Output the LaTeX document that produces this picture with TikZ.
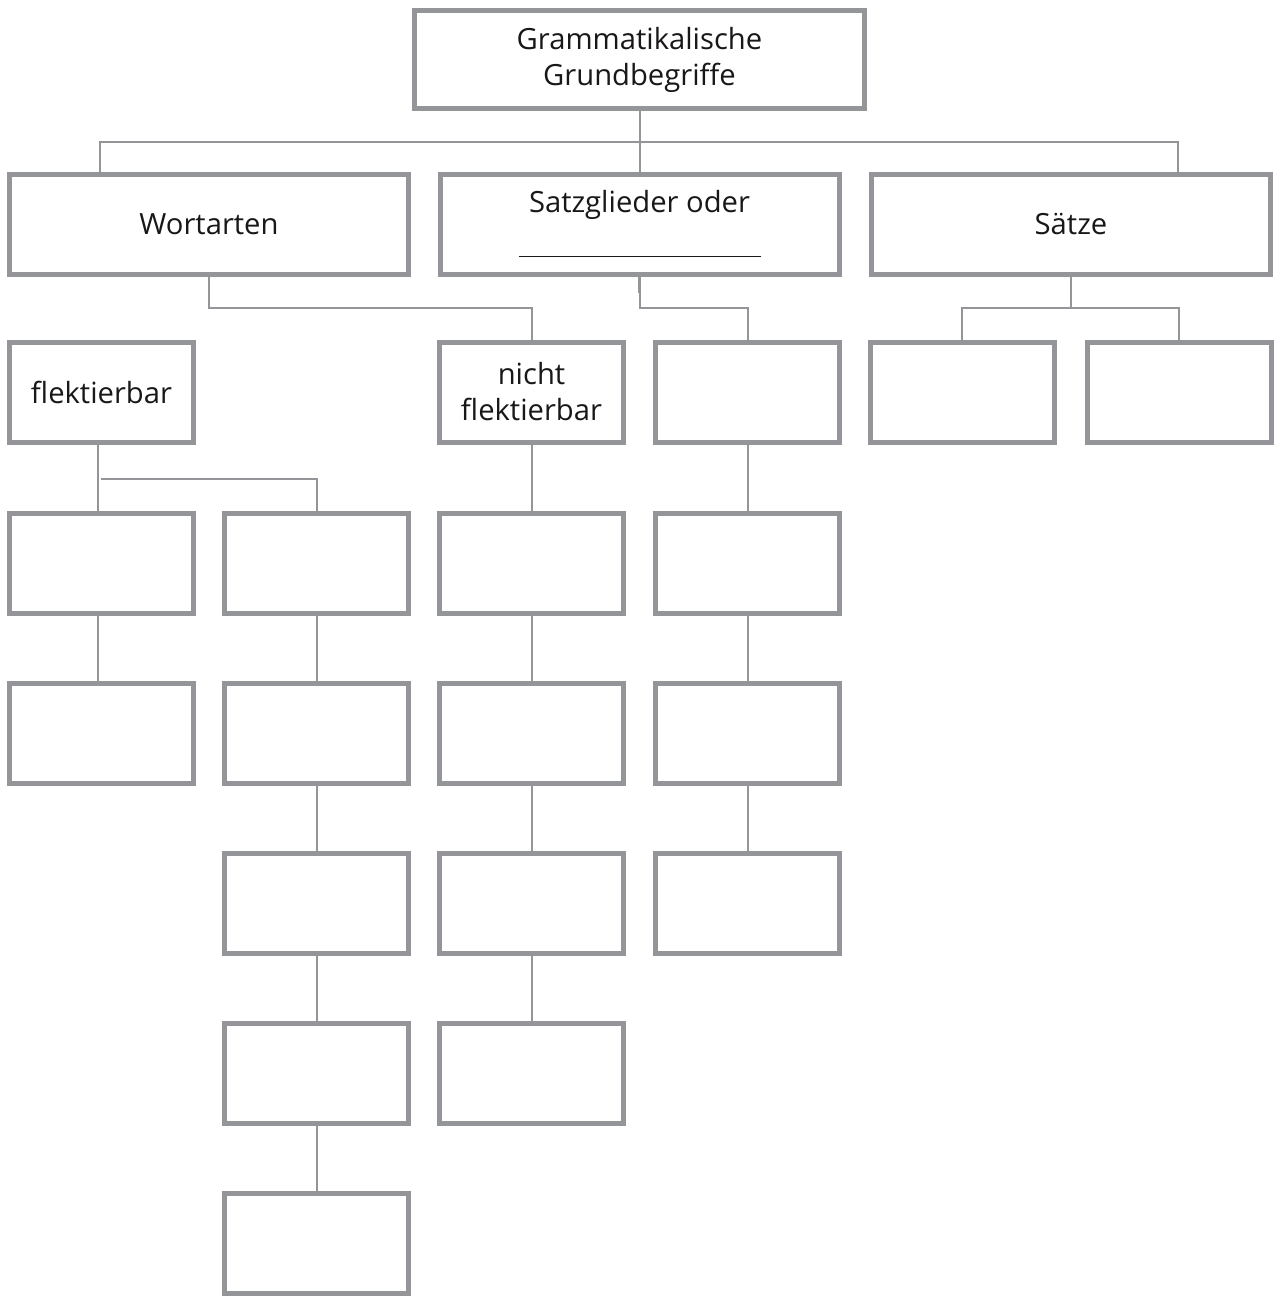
\documentclass[tikz,border=0pt]{standalone}
\usepackage{fontspec}
\setmainfont{Open Sans}
\definecolor{boxgray}{HTML}{939598}
\definecolor{txt}{HTML}{1A1718}
\begin{document}
\begin{tikzpicture}[x=0.5pt,y=-0.5pt,
  box/.style={draw=boxgray,line width=2.5pt,fill=white,rectangle,inner sep=0pt,
    minimum width=92pt,minimum height=50pt,align=center,text=txt,
    font=\fontsize{14.6pt}{18pt}\selectfont},
  wide/.style={box,minimum width=199.5pt,minimum height=50pt},
  conn/.style={draw=boxgray,line width=1pt}]
\useasboundingbox (0,0) rectangle (1279,1296);
% top
\node[box,minimum width=225pt,minimum height=49pt] (top) at (639.5,59.5) {Grammatikalische\\Grundbegriffe};
% level 1
\node[wide] (wa) at (209,224.5) {Wortarten};
\node[wide] (sg) at (639.5,224.5) {};
\node[wide] (sa) at (1071,224.5) {Sätze};
\node[text=txt,font=\fontsize{14.6pt}{18pt}\selectfont,inner sep=0pt] (sgt) at (639.5,205) {Satzglieder oder};
\draw[txt,line width=0.5pt] (519,256) -- (761,256);
% level 2
\node[box] (fl) at (101.5,392) {flektierbar};
\node[box] (nf) at (531.5,392) {nicht\\flektierbar};
\node[box] (c4) at (747.5,392) {};
\node[box] (c5) at (962,392) {};
\node[box] (c6) at (1179,392) {};
% column 1
\node[box] (a1) at (101.5,563) {};
\node[box] (a2) at (101.5,733) {};
% column 2
\node[box] (b1) at (316.5,563) {};
\node[box] (b2) at (316.5,733) {};
\node[box] (b3) at (316.5,903) {};
\node[box] (b4) at (316.5,1073) {};
\node[box] (b5) at (316.5,1243) {};
% column 3
\node[box] (d1) at (531.5,563) {};
\node[box] (d2) at (531.5,733) {};
\node[box] (d3) at (531.5,903) {};
\node[box] (d4) at (531.5,1073) {};
% column 4
\node[box] (e1) at (747.5,563) {};
\node[box] (e2) at (747.5,733) {};
\node[box] (e3) at (747.5,903) {};
% connectors
\coordinate (hb) at (639.5,142);
\draw[conn] (top.south) -- (sg.north);
\draw[conn] ([xshift=-54.5pt]wa.north) |- (hb) -| ([xshift=53.5pt]sa.north);
\draw[conn] (wa.south) -- ++(0,31) -| (nf.north);
\draw[conn] (sg.south) -- ++(0,31) -| (c4.north);
\draw[draw=boxgray,line width=1.5pt] (sg.south) -- ++(0,16);
\draw[conn] (sa.south) -- ++(0,31) coordinate (sj);
\draw[conn] (c5.north) |- (sj) -| (c6.north);
\draw[conn] ([xshift=-1.75pt]fl.south) -- ([xshift=-1.75pt]a1.north);
\draw[conn] ([xshift=-0.25pt]fl.south) ++(0,34) -| (b1.north);
\draw[conn] ([xshift=-1.75pt]a1.south) -- ([xshift=-1.75pt]a2.north);
\draw[conn] (b1) -- (b2);
\draw[conn] (b2) -- (b3);
\draw[conn] (b3) -- (b4);
\draw[conn] (b4) -- (b5);
\draw[conn] (nf) -- (d1);
\draw[conn] (d1) -- (d2);
\draw[conn] (d2) -- (d3);
\draw[conn] (d3) -- (d4);
\draw[conn] (c4) -- (e1);
\draw[conn] (e1) -- (e2);
\draw[conn] (e2) -- (e3);
\end{tikzpicture}
\end{document}
